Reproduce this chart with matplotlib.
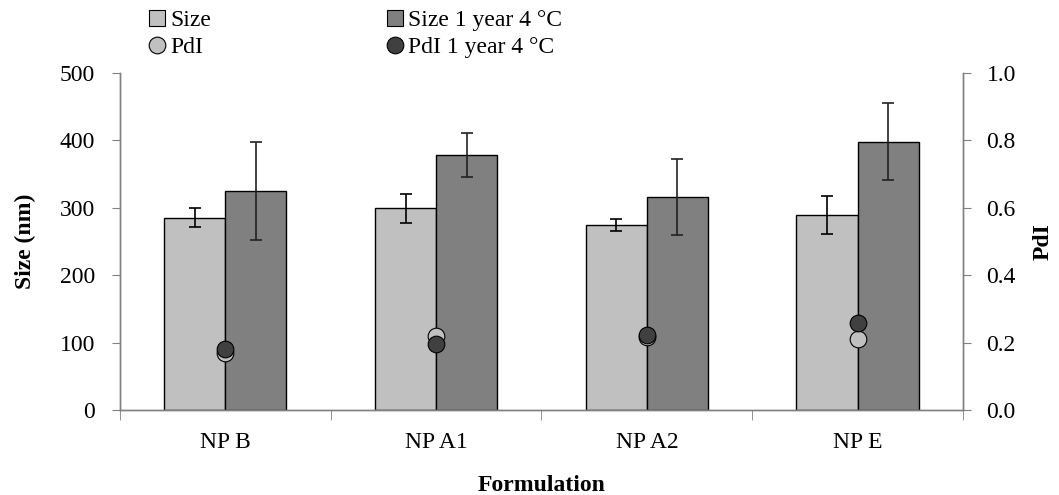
import matplotlib
matplotlib.use('Agg')

import numpy as np
import matplotlib.pyplot as plt
from matplotlib.lines import Line2D

plt.rcParams['font.family'] = ['Liberation Serif', 'DejaVu Serif']

formulations = ['NP B', 'NP A1', 'NP A2', 'NP E']
size_fresh = [285, 299, 274, 289]
size_fresh_err = [14, 22, 9, 28]
size_aged = [325, 378, 316, 398]
size_aged_err = [73, 33, 56, 57]
pdi_fresh = [0.170, 0.220, 0.217, 0.210]
pdi_aged = [0.181, 0.197, 0.222, 0.259]

LIGHT = '#C0C0C0'
DARK = '#808080'
DOT_DARK = '#404040'
AXIS_GREY = '#808080'
FS = 17

fig = plt.figure(figsize=(10.59, 4.95), dpi=100)
ax = fig.add_axes([0.1133, 0.1717, 0.796, 0.6808])
ax2 = ax.twinx()

x = np.arange(len(formulations))
w = 0.29
ax.bar(x - w / 2, size_fresh, w, color=LIGHT, edgecolor='black', linewidth=1.0, zorder=2)
ax.bar(x + w / 2, size_aged, w, color=DARK, edgecolor='black', linewidth=1.0, zorder=2)
ax.errorbar(x - w / 2, size_fresh, yerr=size_fresh_err, fmt='none', ecolor='black',
            elinewidth=1.2, capsize=4.5, capthick=1.2, zorder=3)
ax.errorbar(x + w / 2, size_aged, yerr=size_aged_err, fmt='none', ecolor='#222222',
            elinewidth=1.2, capsize=4.5, capthick=1.2, zorder=3)

ax2.plot(x, pdi_fresh, 'o', markersize=12, markerfacecolor=LIGHT,
         markeredgecolor='black', markeredgewidth=0.8, zorder=4)
ax2.plot(x, pdi_aged, 'o', markersize=12, markerfacecolor=DOT_DARK,
         markeredgecolor='black', markeredgewidth=0.8, zorder=5)

ax.set_xlim(-0.5, len(formulations) - 0.5)
ax.set_ylim(0, 500)
ax2.set_ylim(0, 1.0)
ax.set_yticks(np.arange(0, 501, 100))
pdi_ticks = np.arange(0, 1.01, 0.2)
ax2.set_yticks(pdi_ticks)
ax2.set_yticklabels([f'{v:.1f}' for v in pdi_ticks])

# category labels centred, tick marks between categories
ax.set_xticks(x)
ax.set_xticklabels(formulations)
ax.set_xticks(np.arange(-0.5, len(formulations), 1), minor=True)
ax.tick_params(axis='x', which='major', length=0, labelsize=FS, pad=16)
ax.tick_params(axis='x', which='minor', length=7, direction='out', color=AXIS_GREY)
ax.tick_params(axis='y', labelsize=FS, length=6, color=AXIS_GREY, pad=12)
ax2.tick_params(axis='y', labelsize=FS, length=6, color=AXIS_GREY, pad=11)

for a in (ax, ax2):
    a.spines['top'].set_visible(False)
    for s in ('left', 'right', 'bottom'):
        a.spines[s].set_color(AXIS_GREY)
        a.spines[s].set_linewidth(1.0)
ax2.patch.set_visible(False)

ax.set_xlabel('Formulation', fontsize=FS, fontweight='bold', labelpad=16)
ax.set_ylabel('Size (nm)', fontsize=FS, fontweight='bold', labelpad=17)
ax2.set_ylabel('PdI', fontsize=FS, fontweight='bold', rotation=90, labelpad=12)

handles = [
    Line2D([], [], marker='s', linestyle='none', markersize=12, markerfacecolor=LIGHT,
           markeredgecolor='black', markeredgewidth=0.8),
    Line2D([], [], marker='o', linestyle='none', markersize=12, markerfacecolor=LIGHT,
           markeredgecolor='black', markeredgewidth=0.8),
    Line2D([], [], marker='s', linestyle='none', markersize=12, markerfacecolor=DARK,
           markeredgecolor='black', markeredgewidth=0.8),
    Line2D([], [], marker='o', linestyle='none', markersize=12, markerfacecolor=DOT_DARK,
           markeredgecolor='black', markeredgewidth=0.8),
]
labels = ['Size', 'PdI', 'Size 1 year 4 °C', 'PdI 1 year 4 °C']
fig.legend(handles, labels, ncol=2, loc='upper left', bbox_to_anchor=(0.1395, 0.98),
           frameon=False, fontsize=FS, handlelength=0.8, handletextpad=0.15,
           columnspacing=7.4, labelspacing=0.22, borderpad=0, borderaxespad=0)

fig.savefig('out.png', dpi=100)
